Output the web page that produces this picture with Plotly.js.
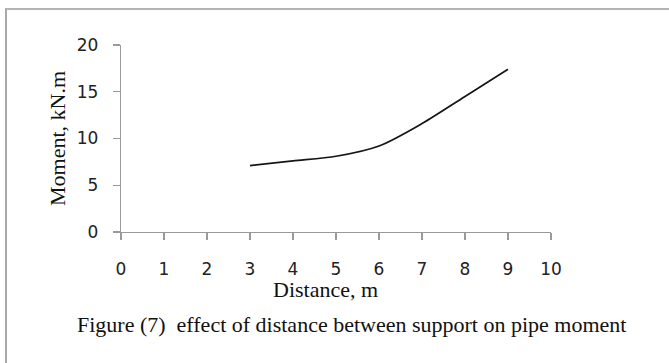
<!DOCTYPE html>
<html>
<head>
<meta charset="utf-8">
<script src="https://cdn.plot.ly/plotly-3.0.1.min.js"></script>
<style>
  html, body { margin: 0; padding: 0; background: #ffffff; }
  #wrap { position: relative; width: 669px; height: 363px; overflow: hidden; }
  #frame { position: absolute; left: 5px; top: 8px; width: 680px; height: 380px;
           border-left: 2px solid #a8a8a8; border-top: 2px solid #b4b4b4; box-sizing: border-box; }
  #chart { position: absolute; left: 0; top: 0; width: 669px; height: 363px; }
</style>
</head>
<body>
<div id="wrap">
  <div id="frame"></div>
  <div id="chart"></div>
</div>
<script>
const distance = [3, 4, 5, 6, 7, 8, 9];
const moment = [7.1, 7.6, 8.1, 9.2, 11.6, 14.5, 17.4];
const xTicks = [0, 1, 2, 3, 4, 5, 6, 7, 8, 9, 10];
const yTicks = [0, 5, 10, 15, 20];
const xTitle = "Distance, m";
const yTitle = "Moment, kN.m";
const caption = "Figure (7)&nbsp; effect of distance between support on pipe moment";

const trace = {
  x: distance,
  y: moment,
  type: "scatter",
  mode: "lines",
  line: { color: "#151515", width: 1.7, shape: "spline", smoothing: 0.8 },
  hoverinfo: "skip"
};

const axisCommon = {
  showgrid: false,
  zeroline: false,
  showline: true,
  linecolor: "#9a9a9a",
  linewidth: 1.2,
  ticks: "outside",
  ticklen: 7,
  tickwidth: 1.2,
  tickcolor: "#9a9a9a",
  tickfont: { family: "DejaVu Sans, Verdana, sans-serif", size: 17, color: "#222222" },
  fixedrange: true
};

const serif = "Liberation Serif, Times New Roman, serif";

const layout = {
  width: 669,
  height: 363,
  margin: { l: 121, r: 118, t: 45, b: 131 },
  paper_bgcolor: "rgba(0,0,0,0)",
  plot_bgcolor: "rgba(0,0,0,0)",
  showlegend: false,
  xaxis: Object.assign({}, axisCommon, {
    range: [0, 10],
    tickmode: "array",
    tickvals: xTicks,
    ticktext: xTicks.map(String),
    ticklabelstandoff: 14
  }),
  yaxis: Object.assign({}, axisCommon, {
    range: [0, 20],
    tickmode: "array",
    tickvals: yTicks,
    ticktext: yTicks.map(String),
    ticklabelstandoff: 11,
    title: { text: yTitle, font: { family: serif, size: 22, color: "#111111" }, standoff: 5 }
  }),
  annotations: [{
    text: xTitle,
    xref: "paper", yref: "paper",
    x: 0.476, y: -0.305,
    xanchor: "center", yanchor: "middle",
    showarrow: false,
    font: { family: serif, size: 22, color: "#111111" }
  }, {
    text: caption,
    xref: "paper", yref: "paper",
    x: 0.536, y: -0.495,
    xanchor: "center", yanchor: "middle",
    showarrow: false,
    font: { family: serif, size: 22, color: "#111111" }
  }]
};

Plotly.newPlot("chart", [trace], layout, { displayModeBar: false, staticPlot: true });
</script>
</body>
</html>
